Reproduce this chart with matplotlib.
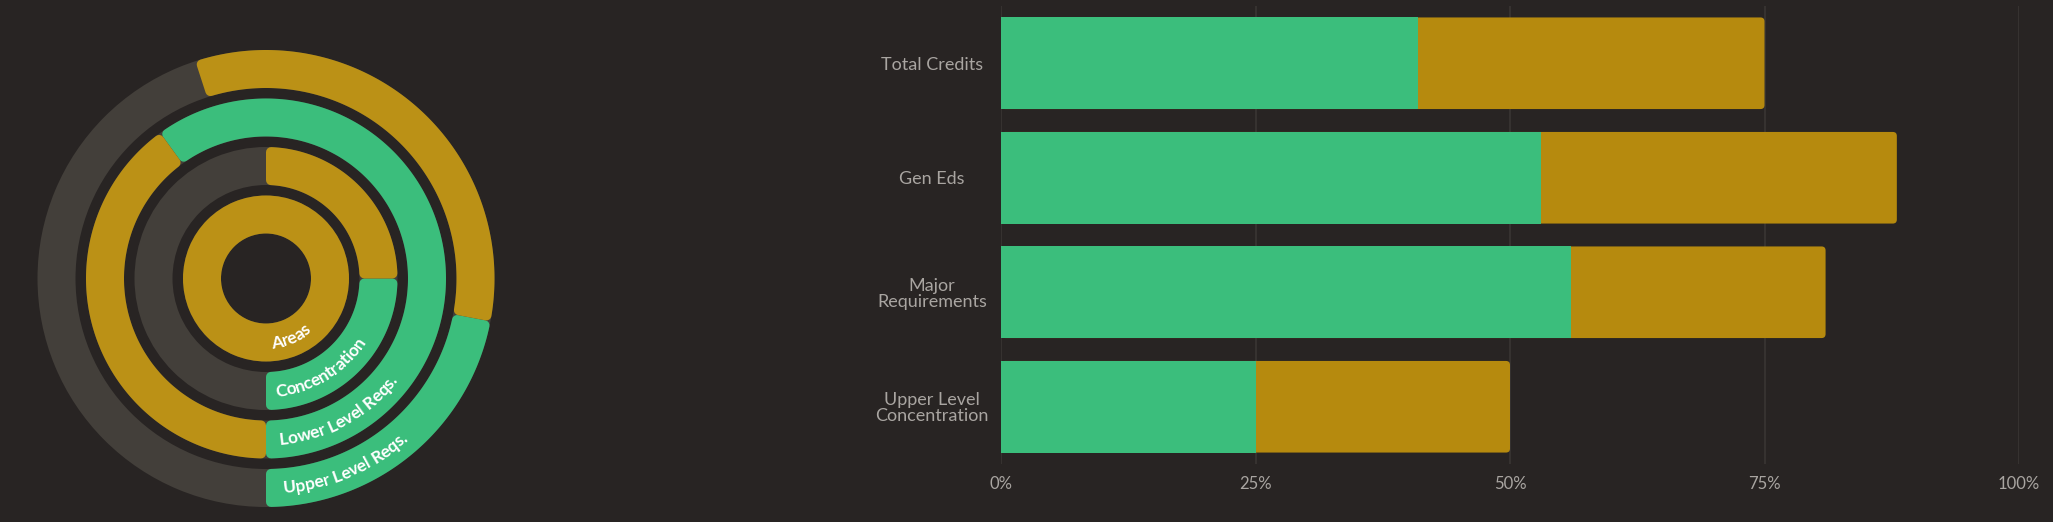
import numpy as np
import matplotlib
matplotlib.use("Agg")
import matplotlib.pyplot as plt
from matplotlib.patches import Polygon, Wedge, FancyBboxPatch
from matplotlib.font_manager import FontProperties

# ---------------- data ----------------
ring_labels = ['Areas', 'Concentration', 'Lower Level Reqs.', 'Upper Level Reqs.']
ring_green = [0, 25, 60, 22]
ring_gold = [100, 25, 40, 33]

bar_labels = ['Total Credits', 'Gen Eds', 'Major\nRequirements', 'Upper Level\nConcentration']
bar_green = [41, 53, 56, 25]
bar_gold = [34, 35, 25, 25]
x_ticks = [0, 25, 50, 75, 100]
x_tick_labels = ['0%', '25%', '50%', '75%', '100%']

# ---------------- style ----------------
BG = '#282423'
TRACK = '#433f3a'
GREEN = '#3bbe7c'
GOLD_RING = '#bb9116'
GOLD_BAR = '#b68a0e'
GRID = '#3a3633'
TXT = '#a9a5a1'

W, H = 2053, 522
DPI = 100
plt.rcParams['font.family'] = ['Lato', 'DejaVu Sans']

fig = plt.figure(figsize=(W / DPI, H / DPI), dpi=DPI, facecolor=BG)
px_to_pt = 72.0 / DPI

# ---------------- radial chart (pixel coordinates) ----------------
RW = 600
ax_r = fig.add_axes([0, 0, RW / W, 1])
ax_r.set_xlim(0, RW)
ax_r.set_ylim(H, 0)
ax_r.axis('off')
ax_r.set_facecolor(BG)

cx, cy = 266.0, 278.5
r0, ring_w, ring_pitch = 45.0, 38.0, 48.5
rc = 5.0  # corner radius (px)


def pt(r, phi):
    return cx + r * np.sin(phi), cy + r * np.cos(phi)


def seg(ax, r_in, r_out, p1, p2, color):
    a1, a2 = 2 * np.pi * p1 / 100.0, 2 * np.pi * p2 / 100.0
    ri, ro = r_in + rc, r_out - rc
    o1, o2 = a1 + np.arcsin(rc / ro), a2 - np.arcsin(rc / ro)
    i1, i2 = a1 + np.arcsin(rc / ri), a2 - np.arcsin(rc / ri)
    to = np.linspace(o1, o2, 200)
    ti = np.linspace(i2, i1, 200)
    xs = np.concatenate([cx + ro * np.sin(to), cx + ri * np.sin(ti)])
    ys = np.concatenate([cy + ro * np.cos(to), cy + ri * np.cos(ti)])
    poly = Polygon(np.column_stack([xs, ys]), closed=True, facecolor=color,
                   edgecolor=color, linewidth=2 * rc * px_to_pt, joinstyle='round')
    ax.add_patch(poly)


def annulus(ax, r_in, r_out, color):
    ax.add_patch(Wedge((cx, cy), r_out, 0, 360, width=r_out - r_in,
                       facecolor=color, edgecolor='none'))


renderer = fig.canvas.get_renderer()
fp_ring = FontProperties(family=['Lato', 'DejaVu Sans'], weight='bold', size=12.5)
TRACKING = 0.98


def text_w(s):
    return renderer.get_text_width_height_descent(s, fp_ring, ismath=False)[0]


def curved_text(ax, text, r, phi0):
    ref = text_w('|')
    starts = [text_w(text[:i] + '|') - ref for i in range(len(text) + 1)]
    for i, ch in enumerate(text):
        if ch == ' ':
            continue
        s = 0.5 * (starts[i] + starts[i + 1]) * TRACKING
        phi = phi0 + s / r
        x, y = pt(r, phi)
        ax.text(x, y, ch, rotation=np.degrees(phi), rotation_mode='anchor',
                ha='center', va='baseline', fontproperties=fp_ring, color='white')


for i, lab in enumerate(ring_labels):
    r_in = r0 + i * ring_pitch
    r_out = r_in + ring_w
    annulus(ax_r, r_in, r_out, TRACK)
    g, d = ring_green[i], ring_gold[i]
    if g >= 100:
        annulus(ax_r, r_in, r_out, GREEN)
    elif g > 0:
        seg(ax_r, r_in, r_out, 0, g, GREEN)
    if d >= 100:
        annulus(ax_r, r_in, r_out, GOLD_RING)
    elif d > 0:
        seg(ax_r, r_in, r_out, g, g + d, GOLD_RING)
    r_mid = 0.5 * (r_in + r_out)
    curved_text(ax_r, lab, r_mid + 6.0, 0.085)

# ---------------- bar chart ----------------
AX_W_PX, AX_H_PX = 1018, 458
ax_b = fig.add_axes([1001 / W, 58 / H, AX_W_PX / W, AX_H_PX / H])
ax_b.set_facecolor(BG)
y = np.arange(len(bar_labels))
bar_total = [g + d for g, d in zip(bar_green, bar_gold)]
ax_b.set_xlim(0, 100)
ax_b.set_ylim(len(bar_labels) - 0.5, -0.5)

# gold bars (full length, rounded right end), green drawn over the left part
gold_bars = ax_b.barh(y, bar_total, height=0.8, color=GOLD_BAR, edgecolor='none', zorder=2)
x_per_px = 100.0 / AX_W_PX
y_per_px = len(bar_labels) / AX_H_PX
r_round = 4.0 * x_per_px
for p in list(gold_bars.patches):
    fb = FancyBboxPatch((p.get_x(), p.get_y()), p.get_width(), p.get_height(),
                        boxstyle=f"round,pad=0,rounding_size={r_round}",
                        mutation_aspect=y_per_px / x_per_px,
                        facecolor=GOLD_BAR, edgecolor='none', zorder=2)
    ax_b.add_patch(fb)
    p.set_visible(False)
ax_b.barh(y, bar_green, height=0.8, color=GREEN, edgecolor='none', zorder=3)

ax_b.set_xticks(x_ticks)
ax_b.set_xticklabels(x_tick_labels)
ax_b.set_yticks(y)
ax_b.set_yticklabels(bar_labels, ha='center', linespacing=1.0)
ax_b.tick_params(axis='y', length=0, pad=69 * px_to_pt, labelsize=13, labelcolor=TXT)
ax_b.tick_params(axis='x', length=0, pad=12 * px_to_pt, labelsize=12, labelcolor=TXT)
ax_b.grid(axis='x', color=GRID, linewidth=1.2, zorder=0)
ax_b.set_axisbelow(True)
for sp in ax_b.spines.values():
    sp.set_visible(False)

fig.savefig('out.png', dpi=DPI, facecolor=BG)
